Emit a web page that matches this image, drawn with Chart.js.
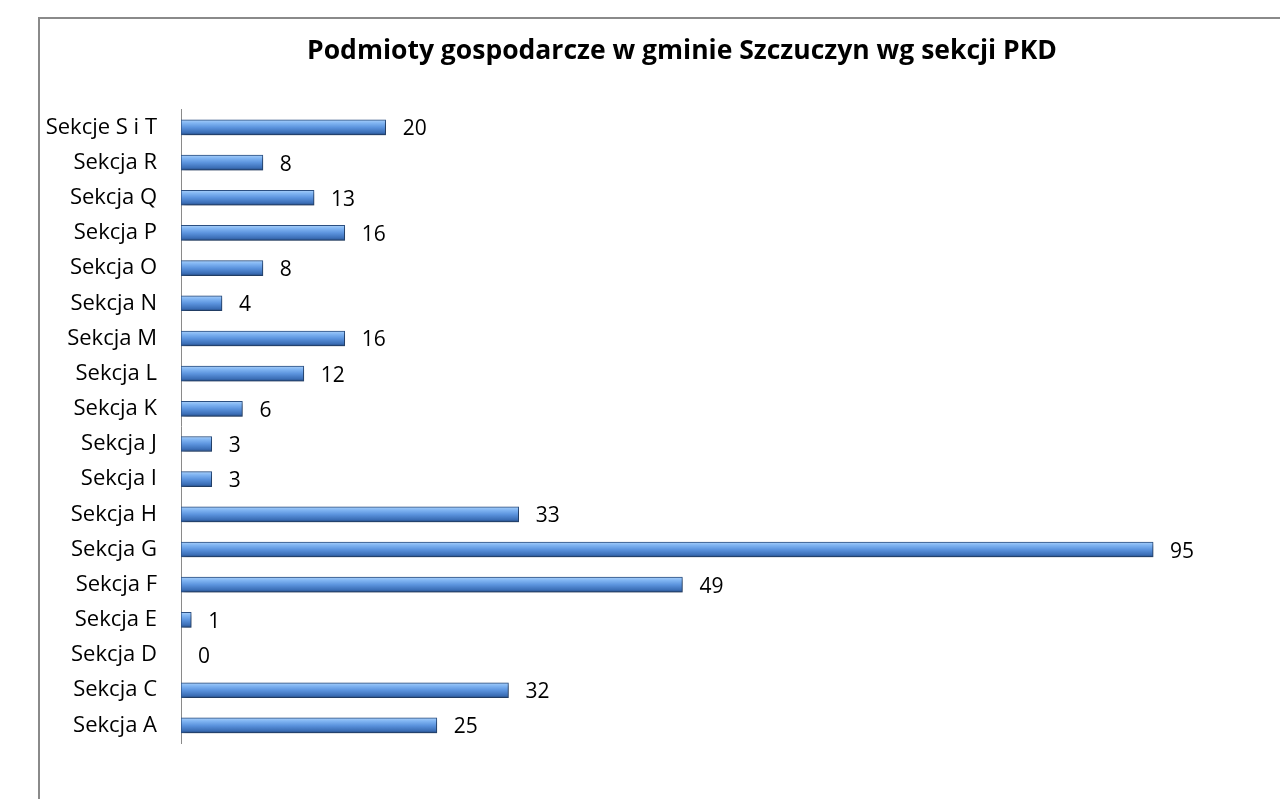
<!DOCTYPE html>
<html>
<head>
<meta charset="utf-8">
<script src="https://cdn.jsdelivr.net/npm/chart.js@4"></script>
<style>
  html, body { margin: 0; padding: 0; background: #fff; overflow: hidden; }
  #box {
    position: absolute; left: 38px; top: 17px;
    width: 1284px; height: 800px;
    border-left: 2px solid #8a8a8a; border-top: 2px solid #8a8a8a;
  }
</style>
</head>
<body>
<div id="box"><canvas id="myChart" width="1284" height="800"></canvas></div>
<script>
let sections = ['Sekcje S i T', 'Sekcja R', 'Sekcja Q', 'Sekcja P', 'Sekcja O', 'Sekcja N',
  'Sekcja M', 'Sekcja L', 'Sekcja K', 'Sekcja J', 'Sekcja I', 'Sekcja H',
  'Sekcja G', 'Sekcja F', 'Sekcja E', 'Sekcja D', 'Sekcja C', 'Sekcja A']
let counts = [20, 8, 13, 16, 8, 4, 16, 12, 6, 3, 3, 33, 95, 49, 1, 0, 32, 25]
let title = 'Podmioty gospodarcze w gminie Szczuczyn wg sekcji PKD'

let fontName = "'Open Sans', 'Noto Sans', sans-serif"

// gradient per bar, centred on its category
function barFill(ctx) {
    let y = ctx.chart.scales.y
    if (!y || ctx.dataIndex === undefined) return '#4f81bd'
    let c = y.getPixelForValue(ctx.dataIndex)
    if (!isFinite(c)) return '#4f81bd'
    let g = ctx.chart.ctx.createLinearGradient(0, c - 7.5, 0, c + 7.5)
    g.addColorStop(0, '#a9cff8')
    g.addColorStop(0.2, '#82b6f3')
    g.addColorStop(0.5, '#5c94de')
    g.addColorStop(0.85, '#3b6eb6')
    g.addColorStop(1, '#254a80')
    return g
}

let shadowPlugin = {
    id: 'shadow',
    beforeDatasetsDraw(chart) {
        let c = chart.ctx
        c.save()
        c.shadowColor = 'rgba(0,0,0,0.35)'
        c.shadowBlur = 4
        c.shadowOffsetX = 2
        c.shadowOffsetY = 2
    },
    afterDatasetsDraw(chart) {
        chart.ctx.restore()
    }
}

let valueLabels = {
    id: 'valueLabels',
    afterDatasetsDraw(chart) {
        let c = chart.ctx
        let meta = chart.getDatasetMeta(0)
        c.save()
        c.font = '21px ' + fontName
        c.fillStyle = '#000'
        c.textBaseline = 'middle'
        c.textAlign = 'left'
        meta.data.forEach((bar, i) => {
            c.fillText(String(counts[i]), bar.x + 17, bar.y + 2)
        })
        c.restore()
    }
}

let config = {
    type: 'bar',
    data: {
        labels: sections,
        datasets: [{
            data: counts,
            backgroundColor: barFill,
            borderColor: '#2d5286',
            borderWidth: 1,
            borderSkipped: false,
            barThickness: 15
        }]
    },
    options: {
        indexAxis: 'y',
        responsive: false,
        animation: false,
        layout: { padding: { left: 0, right: 0, top: 0, bottom: 76 } },
        plugins: {
            legend: { display: false },
            tooltip: { enabled: false },
            title: {
                display: true,
                text: title,
                color: '#000',
                font: { family: fontName, size: 26.5, weight: 'bold' },
                padding: { top: 17, bottom: 42 }
            }
        },
        scales: {
            x: {
                display: false,
                min: 0,
                max: 111.7
            },
            y: {
                grid: { display: false },
                border: { display: true, color: '#8a8a8a', width: 1 },
                ticks: {
                    color: '#000',
                    padding: 16,
                    font: { family: fontName, size: 22 }
                },
                afterFit(scale) { scale.width = 141 }
            }
        }
    },
    plugins: [shadowPlugin, valueLabels]
}

let myChart = new Chart(document.getElementById('myChart'), config)
</script>
</body>
</html>
